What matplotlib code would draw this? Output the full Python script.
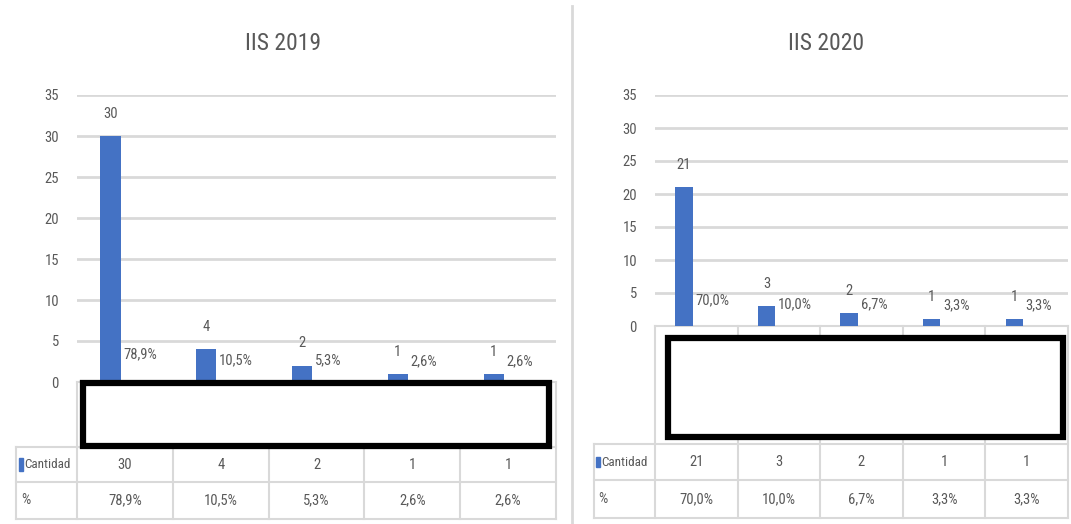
import matplotlib
matplotlib.use("Agg")
import matplotlib.pyplot as plt
import matplotlib.transforms as mtransforms
from matplotlib.patches import Rectangle
from matplotlib import font_manager

# ---------------- data ----------------
counts_2019 = [30, 4, 2, 1, 1]
pct_2019 = [78.9, 10.5, 5.3, 2.6, 2.6]
counts_2020 = [21, 3, 2, 1, 1]
pct_2020 = [70.0, 10.0, 6.7, 3.3, 3.3]
titles = ["IIS 2019", "IIS 2020"]
row_labels = ["Cantidad", "%"]
yticks = [0, 5, 10, 15, 20, 25, 30, 35]

# ---------------- style ----------------
avail = {f.name for f in font_manager.fontManager.ttflist}
font = "DejaVu Sans"
for fam in ["Liberation Sans Narrow", "Roboto Condensed", "Open Sans Condensed",
            "Noto Sans Condensed", "Liberation Sans", "Roboto"]:
    if fam in avail:
        font = fam
        break
plt.rcParams["font.family"] = [font, "DejaVu Sans"]

BLUE = "#4472C4"
GRID = "#d9d9d9"
TXT = "#595959"
FS = 10.5

W, H = 1071, 524
fig = plt.figure(figsize=(W / 100, H / 100), dpi=100)
fig.patch.set_facecolor("white")


def fx(px):
    return px / W


def fy(py):
    return 1 - py / H


def pct_fmt(v):
    return f"{v:.1f}%".replace(".", ",")


panels = [
    dict(counts=counts_2019, pct=pct_2019, title=titles[0],
         x0=77, x1=556, top=95, zero=382,
         t_top=447, t_mid=482, t_bot=519, hdr_left=16,
         box=(83, 383, 549, 446), title_xy=(283, 44)),
    dict(counts=counts_2020, pct=pct_2020, title=titles[1],
         x0=655, x1=1068, top=95, zero=326,
         t_top=444, t_mid=480, t_bot=518, hdr_left=594,
         box=(668, 338, 1063, 437), title_xy=(826, 44)),
]

for p in panels:
    ax = fig.add_axes([fx(p["x0"]), fy(p["zero"]), fx(p["x1"] - p["x0"]),
                       (p["zero"] - p["top"]) / H])
    n = len(p["counts"])
    xs = list(range(n))
    ax.set_xlim(-0.5, n - 0.5)
    ax.set_ylim(0, 35)
    ax.set_yticks(yticks)
    ax.set_xticks([])
    for s in ax.spines.values():
        s.set_visible(False)
    ax.tick_params(axis="y", length=0, pad=13, labelsize=FS, labelcolor=TXT)
    ax.yaxis.grid(True, color=GRID, linewidth=2)
    ax.set_axisbelow(True)

    bw = 0.21
    bx = [x - 0.15 for x in xs]
    ax.bar(bx, p["counts"], width=bw, color=BLUE, zorder=3)

    for xi, c, pc in zip(bx, p["counts"], p["pct"]):
        ax.annotate(str(c), (xi, c), xytext=(0, 16), textcoords="offset points",
                    ha="center", va="center", fontsize=FS, color=TXT)
        ax.annotate(pct_fmt(pc), (xi + bw / 2, pc / 100), xytext=(2, 15),
                    textcoords="offset points", ha="left", va="center",
                    fontsize=FS, color=TXT)

    # data table (blended: x in data units, y in axes fraction)
    tr = mtransforms.blended_transform_factory(ax.transData, ax.transAxes)
    hgt = p["zero"] - p["top"]

    def ay(py):
        return (p["zero"] - py) / hgt

    cw = (p["x1"] - p["x0"]) / n
    hdr_x = -0.5 - (p["x0"] - p["hdr_left"]) / cw
    lk = dict(color=GRID, linewidth=1.5, transform=tr, clip_on=False, zorder=1)
    ax.plot([-0.5, n - 0.5], [0, 0], **lk)
    for py in (p["t_top"], p["t_mid"], p["t_bot"]):
        ax.plot([hdr_x, n - 0.5], [ay(py), ay(py)], **lk)
    for k in range(n + 1):
        ax.plot([k - 0.5, k - 0.5], [0, ay(p["t_bot"])], **lk)
    ax.plot([hdr_x, hdr_x], [ay(p["t_top"]), ay(p["t_bot"])], **lk)

    r1 = ay((p["t_top"] + p["t_mid"]) / 2)
    r2 = ay((p["t_mid"] + p["t_bot"]) / 2)
    for xi, c, pc in zip(xs, p["counts"], p["pct"]):
        ax.text(xi, r1, str(c), transform=tr, ha="center", va="center",
                fontsize=FS, color=TXT, clip_on=False)
        ax.text(xi, r2, pct_fmt(pc), transform=tr, ha="center", va="center",
                fontsize=FS, color=TXT, clip_on=False)
    # legend key + row labels
    ax.add_patch(Rectangle((hdr_x + 0.03, r1 - 0.022), 0.04, 0.044,
                           transform=tr, color=BLUE, clip_on=False))
    ax.text(hdr_x + 0.085, r1, row_labels[0], transform=tr, ha="left",
            va="center", fontsize=9.5, color=TXT, clip_on=False)
    ax.text(hdr_x + 0.05, r2, row_labels[1], transform=tr, ha="left",
            va="center", fontsize=FS, color=TXT, clip_on=False)

    fig.text(fx(p["title_xy"][0]), fy(p["title_xy"][1]), p["title"],
             ha="center", va="center", fontsize=17, color=TXT)

    # black redaction box over category labels
    bx0, by0, bx1, by1 = p["box"]
    fig.patches.append(Rectangle((fx(bx0), fy(by1)), fx(bx1 - bx0),
                                 (by1 - by0) / H, transform=fig.transFigure,
                                 facecolor="white", edgecolor="black",
                                 linewidth=4.5, zorder=10))

# vertical separator between the two charts
fig.add_artist(plt.Line2D([fx(572), fx(572)], [0, fy(6)], color=GRID,
                          linewidth=2, transform=fig.transFigure))

fig.savefig("out.png", dpi=100, facecolor="white")
